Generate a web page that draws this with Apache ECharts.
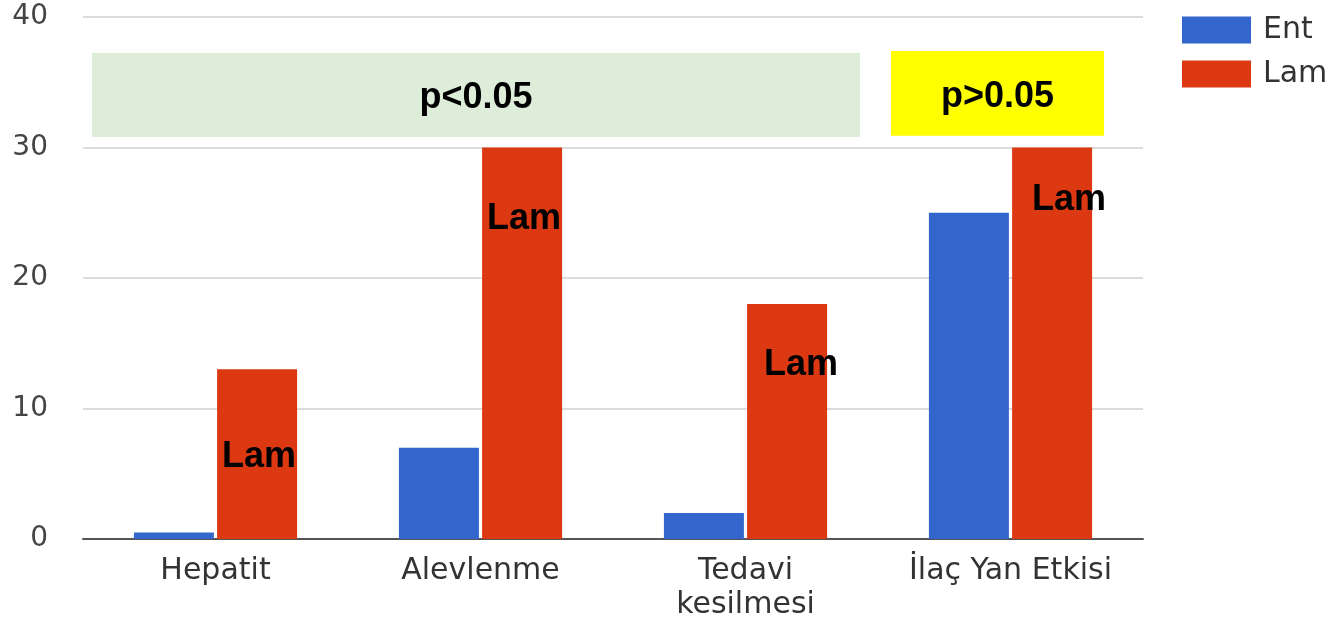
<!DOCTYPE html>
<html>
<head>
<meta charset="utf-8">
<script src="https://cdn.jsdelivr.net/npm/echarts@6/dist/echarts.min.js"></script>
<style>
html,body{margin:0;padding:0;background:#fff;}
#c{width:1334px;height:622px;}
</style>
</head>
<body>
<div id="c"></div>
<script>
// ---- data ----
const categories = ['Hepatit', 'Alevlenme', 'Tedavi\nkesilmesi', 'İlaç Yan Etkisi'];
const seriesNames = ['Ent', 'Lam'];
const entValues = [0.5, 7, 2, 25];
const lamValues = [13, 30, 18, 30];
const yTicks = [0, 10, 20, 30, 40];
// "Lam" annotation anchors (value units) and horizontal nudge
const lamLabelY = [6.3, 24.5, 13.3, 25.95];
const lamLabelDx = [2, 2, 14, 17];
// significance boxes: category-index span and value span
const sigBoxes = [
  { text: 'p<0.05', x0: -0.466, x1: 2.432, y0: 30.8, y1: 37.25, textY: 33.75, fill: '#deedda' },
  { text: 'p>0.05', x0: 2.549, x1: 3.353, y0: 30.9, y1: 37.4, textY: 33.85, fill: '#ffff00' }
];

const chart = echarts.init(document.getElementById('c'));
const option = {
  animation: false,
  backgroundColor: '#fff',
  grid: { left: 83, right: 191, top: 17, bottom: 81, containLabel: false },
  legend: {
    orient: 'vertical', left: 1177, top: 10, itemWidth: 69, itemHeight: 27, itemGap: 14,
    icon: 'rect',
    data: seriesNames,
    textStyle: { fontFamily: 'DejaVu Sans', fontSize: 30, color: '#333', padding: [0, 0, 0, 7] }
  },
  xAxis: {
    type: 'category', data: categories,
    axisLine: { lineStyle: { color: '#555', width: 2 } },
    axisTick: { show: false },
    axisLabel: { fontFamily: 'DejaVu Sans', fontSize: 30, color: '#333', margin: 15, lineHeight: 34, interval: 0 }
  },
  yAxis: {
    type: 'value', min: yTicks[0], max: yTicks[yTicks.length - 1], interval: 10,
    axisLine: { show: false }, axisTick: { show: false },
    axisLabel: { fontFamily: 'DejaVu Sans', fontSize: 28, color: '#444', margin: 35 },
    splitLine: { lineStyle: { color: '#dcdcdc', width: 2 } }
  },
  series: [
    { name: 'Ent', type: 'bar', data: entValues, barWidth: 80, barGap: '4%',
      itemStyle: { color: '#3366cc' } },
    { name: 'Lam', type: 'bar', data: lamValues, barWidth: 80, barGap: '4%',
      itemStyle: { color: '#dc3912' },
      markPoint: {
        symbol: 'rect', symbolSize: 1, itemStyle: { color: 'rgba(0,0,0,0)' },
        label: { show: true, position: 'inside', formatter: 'Lam', fontFamily: 'Liberation Sans, Arial', fontWeight: 'bold', fontSize: 36, color: '#000' },
        data: lamLabelY.map((y, i) => ({ coord: [i, y], label: { offset: [lamLabelDx[i], 0] } }))
      }
    }
  ]
};
chart.setOption(option);

function drawBoxes() {
  const c0 = chart.convertToPixel({ xAxisIndex: 0 }, 0);
  const c1 = chart.convertToPixel({ xAxisIndex: 0 }, 1);
  const step = c1 - c0;
  const els = [];
  sigBoxes.forEach(b => {
    const px0 = c0 + b.x0 * step, px1 = c0 + b.x1 * step;
    const py1 = chart.convertToPixel({ yAxisIndex: 0 }, b.y1);
    const py0 = chart.convertToPixel({ yAxisIndex: 0 }, b.y0);
    const ty = chart.convertToPixel({ yAxisIndex: 0 }, b.textY);
    els.push({ type: 'rect', z: 0, silent: true,
      shape: { x: px0, y: py1, width: px1 - px0, height: py0 - py1 },
      style: { fill: b.fill } });
    els.push({ type: 'text', z: 1, silent: true, x: (px0 + px1) / 2, y: ty,
      style: { text: b.text, fill: '#000', font: 'bold 36px "Liberation Sans", Arial', align: 'center', verticalAlign: 'middle' } });
  });
  chart.setOption({ graphic: els });
}
drawBoxes();
</script>
</body>
</html>
